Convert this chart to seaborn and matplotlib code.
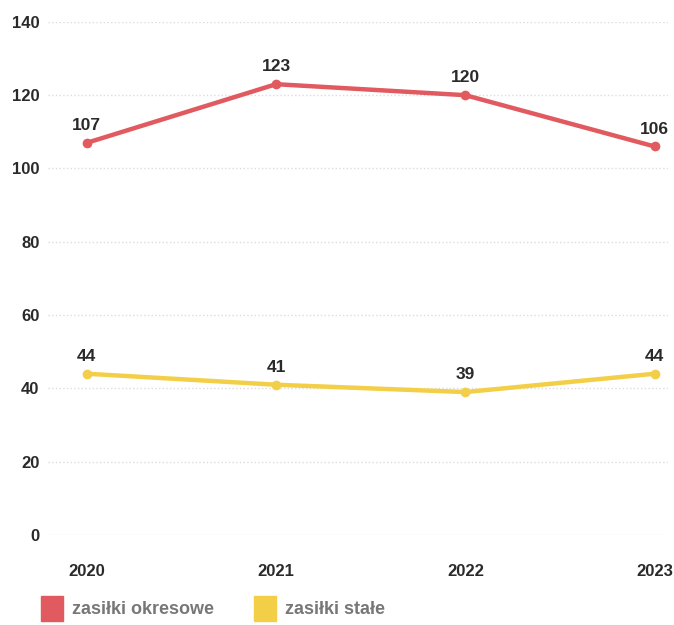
import matplotlib
matplotlib.use('Agg')
import matplotlib.pyplot as plt
import matplotlib.patches as mpatches
import seaborn as sns
import pandas as pd

years = ['2020', '2021', '2022', '2023']
zasilki_okresowe = [107, 123, 120, 106]
zasilki_stale = [44, 41, 39, 44]
series_names = ['zasiłki okresowe', 'zasiłki stałe']
colors = ['#e05a5f', '#f3cf48']

sns.set_style('white')
plt.rcParams['font.family'] = ['Liberation Sans', 'DejaVu Sans']

df = pd.DataFrame({
    'rok': years * 2,
    'liczba': zasilki_okresowe + zasilki_stale,
    'seria': [series_names[0]] * 4 + [series_names[1]] * 4,
})

fig = plt.figure(figsize=(6.74, 6.25), dpi=100)
ax = fig.add_axes([0.071, 0.144, 0.92, 0.821])

sns.lineplot(data=df, x='rok', y='liczba', hue='seria', palette=colors,
             linewidth=3.2, marker='o', markersize=7, markeredgewidth=0,
             legend=False, ax=ax, sort=False)

for vals in (zasilki_okresowe, zasilki_stale):
    for i, v in enumerate(vals):
        ax.annotate(str(v), (i, v), xytext=(0, 7), textcoords='offset points',
                    ha='center', va='bottom', fontsize=12.5, fontweight='bold',
                    color='#2a2a2a')

ax.set_ylim(0, 140)
ax.set_xlim(-0.206, 3.07)
ax.set_yticks(range(0, 141, 20))
ax.grid(axis='y', color='#dcdcdc', linestyle=':', linewidth=1)
ax.grid(axis='x', visible=False)
for s in ax.spines.values():
    s.set_visible(False)
ax.set_xlabel('')
ax.set_ylabel('')
ax.tick_params(axis='y', length=0, labelsize=12, labelcolor='#2a2a2a', pad=6)
ax.tick_params(axis='x', length=0, labelsize=12, labelcolor='#2a2a2a', pad=21)
for lbl in ax.get_xticklabels() + ax.get_yticklabels():
    lbl.set_fontweight('bold')

handles = [mpatches.Patch(color=c, label=n) for c, n in zip(colors, series_names)]
fig.legend(handles=handles, loc='lower left', bbox_to_anchor=(0.036, -0.02),
           ncol=2, frameon=False, labelcolor='#777777',
           handlelength=1.25, handleheight=1.8, columnspacing=2.2, handletextpad=0.5,
           prop={'weight': 'bold', 'size': 13})

fig.savefig('out.png', dpi=100)
